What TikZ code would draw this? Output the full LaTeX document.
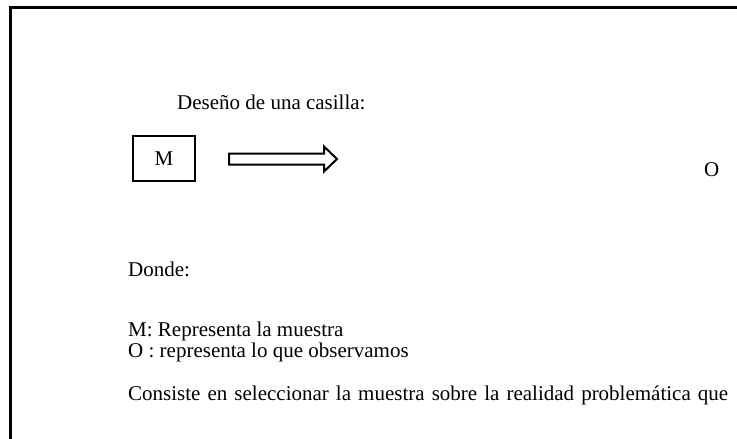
\documentclass[tikz,border=0pt]{standalone}
\usepackage{fontspec}
\setmainfont{Liberation Serif}
\begin{document}
\begin{tikzpicture}[x=1pt,y=-1pt,
  txt/.style={anchor=base west, inner sep=0pt, font=\fontsize{21}{21}\selectfont},
  frameline/.style={line width=2.5pt},
  boxstyle/.style={draw, line width=2pt, minimum width=62pt, minimum height=45pt, inner sep=0pt, font=\fontsize{21}{21}\selectfont},
  arrowstyle/.style={draw, line width=2pt, line join=miter}]
\useasboundingbox (0,0) rectangle (737,439);
\draw[frameline] (10.5,439) -- (10.5,7.5) -- (737,7.5);
\node[txt] (title) at (177,109) {Deseño de una casilla:};
\node[boxstyle] (M) at (164,158.5) {M};
\coordinate (a0) at (229,153.5);
\coordinate (a1) at (324,153.5);
\coordinate (a2) at (324,146.5);
\coordinate (tip) at (337,159);
\coordinate (a3) at (324,171.5);
\coordinate (a4) at (324,164.5);
\coordinate (a5) at (229,164.5);
\draw[arrowstyle] (a0) -- (a1) -- (a2) -- (tip) -- (a3) -- (a4) -- (a5) -- cycle;
\node[txt] (O) at (704,176) {O};
\node[txt] (donde) at (128,276) {Donde:};
\node[txt] (lm) at (128,336) {M: Representa la muestra};
\node[txt] (lo) at (128,357) {O : representa lo que observamos};
\node[txt] (cons) at (128,400) {\makebox[600pt][s]{Consiste en seleccionar la muestra sobre la realidad problemática que}};
\end{tikzpicture}
\end{document}
